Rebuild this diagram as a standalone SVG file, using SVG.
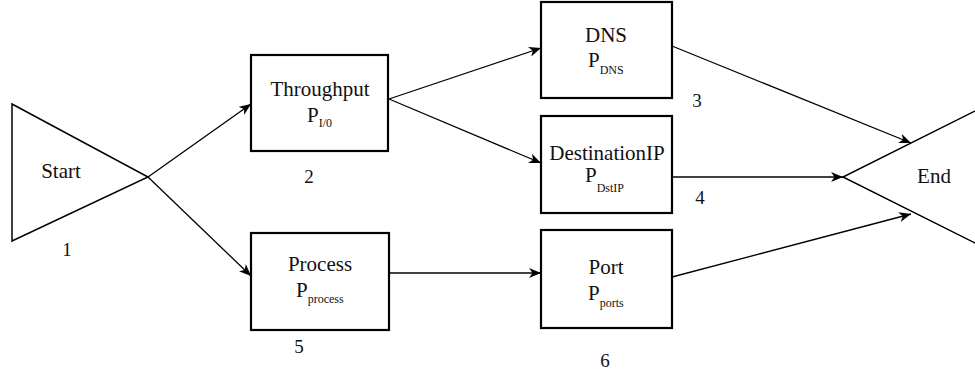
<svg xmlns="http://www.w3.org/2000/svg" width="975" height="377" viewBox="0 0 975 377">
<defs>
<marker id="ah" markerUnits="userSpaceOnUse" markerWidth="12" markerHeight="10" refX="12" refY="5" orient="auto">
<path d="M0,0 L12,5 L0,10 L3.5,5 z" fill="#000"/>
</marker>
<style>
text{font-family:"Liberation Serif","Times New Roman",serif;fill:#111}
.lbl{font-size:21px;text-anchor:middle}
.p{font-size:21px}
.sub{font-size:12px}
.num{font-size:19px;text-anchor:middle}
.box{fill:#fff;stroke:#000;stroke-width:2.2}
.tri{fill:none;stroke:#000;stroke-width:1.5}
.con line{stroke:#000;stroke-width:1.3;marker-end:url(#ah)}
</style>
</defs>
<rect width="975" height="377" fill="#fff"/>
<g class="con" id="connectors">
<line x1="148" y1="177" x2="251" y2="104"/>
<line x1="148" y1="177" x2="251" y2="276"/>
<line x1="389" y1="99" x2="541" y2="48"/>
<line x1="389" y1="99" x2="541" y2="163"/>
<line x1="389" y1="273" x2="541" y2="273"/>
<line x1="672" y1="46" x2="911" y2="143"/>
<line x1="672" y1="177" x2="843" y2="177"/>
<line x1="672" y1="277" x2="911" y2="214"/>
</g>
<g id="start">
<polygon class="tri" points="12,104 148,177 12,241"/>
<text class="lbl" x="61" y="178">Start</text>
<text class="num" x="67" y="256">1</text>
</g>
<g id="throughput">
<rect class="box" x="251" y="55" width="137" height="96"/>
<text class="lbl" x="320" y="96">Throughput</text>
<text x="307" y="122"><tspan class="p">P</tspan><tspan class="sub" dy="5">I/0</tspan></text>
<text class="num" x="309" y="183">2</text>
</g>
<g id="process">
<rect class="box" x="251" y="233" width="138" height="97"/>
<text class="lbl" x="320" y="271">Process</text>
<text x="296" y="297"><tspan class="p">P</tspan><tspan class="sub" dy="6">process</tspan></text>
<text class="num" x="299" y="353">5</text>
</g>
<g id="dns">
<rect class="box" x="541" y="2" width="131" height="96"/>
<text class="lbl" x="606" y="42">DNS</text>
<text x="588" y="67"><tspan class="p">P</tspan><tspan class="sub" dy="7">DNS</tspan></text>
<text class="num" x="697" y="107">3</text>
</g>
<g id="destinationip">
<rect class="box" x="541" y="116" width="131" height="97"/>
<text class="lbl" x="607" y="160">DestinationIP</text>
<text x="585" y="182"><tspan class="p">P</tspan><tspan class="sub" dy="10">DstIP</tspan></text>
<text class="num" x="700" y="204">4</text>
</g>
<g id="port">
<rect class="box" x="541" y="230" width="131" height="98"/>
<text class="lbl" x="606" y="274">Port</text>
<text x="588" y="300"><tspan class="p">P</tspan><tspan class="sub" dy="7">ports</tspan></text>
<text class="num" x="605" y="367">6</text>
</g>
<g id="end">
<polyline class="tri" points="985,106 843,177 985,248"/>
<text class="lbl" x="934" y="183">End</text>
</g>
</svg>
